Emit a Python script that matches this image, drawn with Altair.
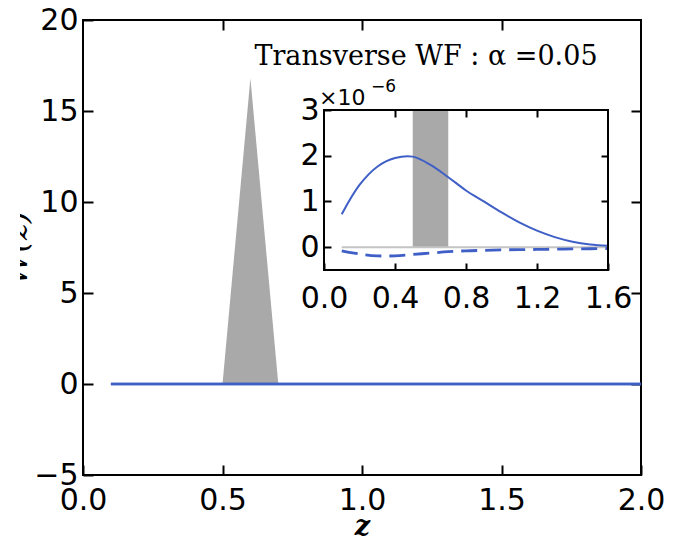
import altair as alt
import pandas as pd

# redshift grid of the transverse window-function curves
z = [0.1, 0.2, 0.3, 0.4, 0.5, 0.6, 0.7, 0.8, 0.9, 1.0,
     1.1, 1.2, 1.3, 1.4, 1.5, 1.6, 1.7, 1.8, 1.9, 2.0]
# solid curve (units of 1e-6)
wf_solid = [0.72, 1.36, 1.76, 1.95, 1.98, 1.80, 1.53, 1.24, 1.00, 0.76,
            0.54, 0.36, 0.22, 0.12, 0.06, 0.03, 0.01, 0.005, 0.0, 0.0]
# dashed curve (units of 1e-6)
wf_dashed = [-0.08, -0.15, -0.19, -0.19, -0.16, -0.13, -0.10, -0.08, -0.07, -0.06,
             -0.055, -0.05, -0.045, -0.04, -0.035, -0.03, -0.03, -0.025, -0.02, -0.02]

# source distribution (triangle)
z_src = [0.5, 0.6, 0.7]
n_src = [0.0, 16.8, 0.0]

# axis limits and ticks
main_z_dom = [0.0, 2.0]
main_y_dom = [-5, 20]
main_z_ticks = [0.0, 0.5, 1.0, 1.5, 2.0]
main_y_ticks = [-5, 0, 5, 10, 15, 20]
inset_z_dom = [0.0, 1.6]
inset_y_dom = [-0.5, 3.0]
inset_z_ticks = [0.0, 0.4, 0.8, 1.2, 1.6]
inset_y_ticks = [0, 1, 2, 3]

title_text = "Transverse WF : α =0.05"
y_title = "W(z)"

BLUE = "#3f5fc6"
GREY = "#a9a9a9"
LABEL_FONT = "DejaVu Sans"

curves = pd.DataFrame({"z": z, "solid": wf_solid, "dashed": wf_dashed})
src = pd.DataFrame({"z": z_src, "n": n_src})

W, H = 558, 455

main_x = alt.Scale(domain=main_z_dom, nice=False, zero=False)
main_y = alt.Scale(domain=main_y_dom, nice=False, zero=False)
inset_x = alt.Scale(domain=inset_z_dom, range=[241, 525], nice=False, zero=False)
inset_y = alt.Scale(domain=inset_y_dom, range=[250, 90], nice=False, zero=False)

common = dict(domain=False, grid=False, tickColor="black", labelColor="black",
              labelFont=LABEL_FONT, labelFontSize=30, labelFlush=False,
              labelOverlap=False)

# ---------------- main panel ----------------
tri = alt.Chart(src).mark_area(color=GREY).encode(
    x=alt.X("z:Q", scale=main_x,
            axis=alt.Axis(orient="bottom", offset=-10, tickSize=10, tickWidth=2,
                          values=main_z_ticks, format=".1f", labelPadding=10,
                          title="z", titleFont="DejaVu Serif", titleFontStyle="italic",
                          titleFontWeight="bold", titleFontSize=27, titleColor="black",
                          titleBaseline="alphabetic", titleY=69, **common)),
    y=alt.Y("n:Q", scale=main_y,
            axis=alt.Axis(orient="left", offset=-10, tickSize=10, tickWidth=2,
                          values=main_y_ticks, labelPadding=5, title=None, **common)),
    y2=alt.datum(0),
)

main_frame_axes = alt.Chart(src).mark_point(opacity=0).encode(
    x=alt.X("z:Q", scale=main_x,
            axis=alt.Axis(orient="top", offset=-10, tickSize=10, tickWidth=2,
                          values=main_z_ticks[1:-1], labels=False, title=None, **common)),
    y=alt.Y("n:Q", scale=main_y,
            axis=alt.Axis(orient="right", offset=-10, tickSize=10, tickWidth=2,
                          values=main_y_ticks[1:-1], labels=False, title=None, **common)),
)

main_dashed = alt.Chart(curves).transform_calculate(w="datum.dashed * 1e-6").mark_line(
    color=BLUE, strokeWidth=2.5).encode(
    x=alt.X("z:Q", scale=main_x, axis=None),
    y=alt.Y("w:Q", scale=main_y, axis=None),
)
main_solid = alt.Chart(curves).transform_calculate(w="datum.solid * 1e-6").mark_line(
    color=BLUE, strokeWidth=2.5).encode(
    x=alt.X("z:Q", scale=main_x, axis=None),
    y=alt.Y("w:Q", scale=main_y, axis=None),
)

title = alt.Chart(pd.DataFrame({"t": [title_text]})).mark_text(
    font="DejaVu Serif", fontSize=27, color="black", align="center",
    baseline="alphabetic").encode(text="t:N", x=alt.value(343), y=alt.value(45))

main_layer = alt.layer(tri, main_dashed, main_solid, main_frame_axes, title).resolve_axis(
    x="independent", y="independent")

# ---------------- inset panel ----------------
band = alt.Chart(pd.DataFrame({"z0": [z_src[0]], "z1": [z_src[-1]],
                               "y0": [0.0], "y1": [inset_y_dom[1]]})).mark_rect(
    color=GREY).encode(
    x=alt.X("z0:Q", scale=inset_x, axis=None), x2="z1:Q",
    y=alt.Y("y0:Q", scale=inset_y, axis=None), y2="y1:Q",
)

zero_edge = alt.Chart(pd.DataFrame({"z0": [z[0]], "z1": [inset_z_dom[1]],
                                    "y0": [0.0]})).mark_rule(
    color="#c4c4c4", strokeWidth=2).encode(
    x=alt.X("z0:Q", scale=inset_x, axis=None), x2="z1:Q",
    y=alt.Y("y0:Q", scale=inset_y, axis=None),
)

inset_dashed = alt.Chart(curves).transform_filter(f"datum.z <= {inset_z_dom[1]}").mark_line(
    color=BLUE, strokeWidth=2.8, strokeDash=[16, 8], interpolate="catmull-rom").encode(
    x=alt.X("z:Q", scale=inset_x, axis=None),
    y=alt.Y("dashed:Q", scale=inset_y, axis=None),
)
inset_solid = alt.Chart(curves).transform_filter(f"datum.z <= {inset_z_dom[1]}").mark_line(
    color=BLUE, strokeWidth=2, interpolate="catmull-rom").encode(
    x=alt.X("z:Q", scale=inset_x, axis=None),
    y=alt.Y("solid:Q", scale=inset_y, axis=None),
)

frame_df = pd.DataFrame({"x0": [inset_z_dom[0]], "x1": [inset_z_dom[1]],
                         "y0": [inset_y_dom[0]], "y1": [inset_y_dom[1]]})
inset_frame = alt.Chart(frame_df).mark_rect(
    fillOpacity=0, stroke="black", strokeWidth=2).encode(
    x=alt.X("x0:Q", scale=inset_x,
            axis=alt.Axis(orient="bottom", offset=-212, tickSize=7, tickWidth=2,
                          values=inset_z_ticks, format=".1f", labelPadding=13,
                          title=None, **common)),
    x2="x1:Q",
    y=alt.Y("y0:Q", scale=inset_y,
            axis=alt.Axis(orient="left", offset=-248, tickSize=7, tickWidth=2,
                          values=inset_y_ticks, labelPadding=5, title=None, **common)),
    y2="y1:Q",
)
inset_frame_axes = alt.Chart(frame_df).mark_point(opacity=0).encode(
    x=alt.X("x1:Q", scale=inset_x,
            axis=alt.Axis(orient="top", offset=-97, tickSize=7, tickWidth=2,
                          values=inset_z_ticks[1:-1], labels=False, title=None, **common)),
    y=alt.Y("y1:Q", scale=inset_y,
            axis=alt.Axis(orient="right", offset=-40, tickSize=7, tickWidth=2,
                          values=inset_y_ticks[1:-1], labels=False, title=None, **common)),
)

mult = alt.Chart(pd.DataFrame({"t": ["×10"]})).mark_text(
    font=LABEL_FONT, fontSize=22, color="black", align="left",
    baseline="alphabetic").encode(text="t:N", x=alt.value(236), y=alt.value(85))
expo = alt.Chart(pd.DataFrame({"t": ["−6"]})).mark_text(
    font=LABEL_FONT, fontSize=17, color="black", align="left",
    baseline="alphabetic").encode(text="t:N", x=alt.value(288), y=alt.value(72))

inset_layer = alt.layer(band, zero_edge, inset_dashed, inset_solid, inset_frame,
                        inset_frame_axes, mult, expo).resolve_axis(
    x="independent", y="independent")

panel = alt.layer(main_layer, inset_layer).resolve_scale(
    x="independent", y="independent").properties(width=W, height=H)

# rotated y-axis label, clipped at the left edge of the figure
ylab = alt.Chart(pd.DataFrame({"t": [y_title]})).mark_text(
    angle=270, clip=True, font="DejaVu Serif", fontStyle="italic", fontSize=32,
    color="black", align="center", baseline="alphabetic").encode(
    text="t:N", x=alt.value(7), y=alt.value(228)).properties(
    width=13, height=H, view=alt.ViewBackground(strokeOpacity=0))

chart = alt.hconcat(ylab, panel, spacing=50, bounds="flush").properties(
    padding={"left": 20, "top": 4, "right": 0, "bottom": 0}
).configure_view(stroke="black", strokeWidth=2)

chart.save("out.html", embed_options={"renderer": "svg", "actions": False})
